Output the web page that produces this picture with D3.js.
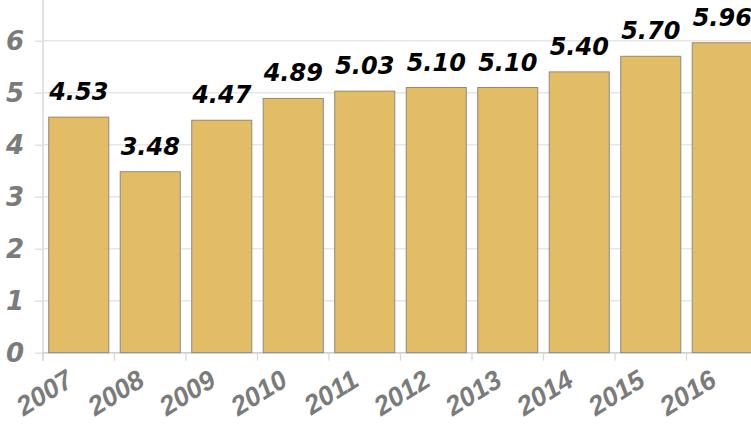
<!DOCTYPE html>
<html>
<head>
<meta charset="utf-8">
<script src="https://cdn.jsdelivr.net/npm/d3@7"></script>
<style>
  html, body { margin: 0; padding: 0; background: #fff; }
  svg { display: block; }
  .lbl { font-family: "DejaVu Sans", sans-serif; font-weight: bold; font-style: italic; }
  .yr { font-family: "Liberation Sans", Arial, sans-serif; font-weight: bold; font-style: italic; }
</style>
</head>
<body>
<svg id="chart" width="751" height="424"></svg>
<script>
// Yearly values
const years = ["2007", "2008", "2009", "2010", "2011", "2012", "2013", "2014", "2015", "2016"];
const values = [4.53, 3.48, 4.47, 4.89, 5.03, 5.10, 5.10, 5.40, 5.70, 5.96];
const valueLabels = ["4.53", "3.48", "4.47", "4.89", "5.03", "5.10", "5.10", "5.40", "5.70", "5.96"];
const yTicks = [0, 1, 2, 3, 4, 5, 6];

const svg = d3.select("#chart");
const plotLeft = 43, plotRight = 758, plotTop = 40.7, plotBottom = 352.7;

const x = d3.scaleBand().domain(years).range([plotLeft, plotRight]).paddingInner(0.16).paddingOuter(0.08);
const y = d3.scaleLinear().domain([0, 6]).range([plotBottom, plotTop]);

// short ticks to the left of the axis
const yAxis = svg.append("g")
  .attr("transform", `translate(${plotLeft},0)`)
  .call(d3.axisLeft(y).tickValues(yTicks).tickSize(8).tickFormat(""));
yAxis.select(".domain").remove();
yAxis.selectAll(".tick line").attr("stroke", "#e3e3e3").attr("stroke-width", 1.5);

// horizontal grid lines
svg.append("g").selectAll("line").data(yTicks).join("line")
  .attr("x1", plotLeft).attr("x2", 751)
  .attr("y1", d => y(d)).attr("y2", d => y(d))
  .attr("stroke", "#e6e6e6").attr("stroke-width", 1.5);

// vertical axis line
svg.append("line")
  .attr("x1", plotLeft).attr("x2", plotLeft).attr("y1", 0).attr("y2", plotBottom + 8)
  .attr("stroke", "#d8d8d8").attr("stroke-width", 1.5);

// y tick labels
svg.append("g").selectAll("text").data(yTicks).join("text")
  .attr("class", "lbl")
  .attr("x", 24).attr("y", d => y(d)).attr("dy", "0.36em")
  .attr("text-anchor", "end")
  .attr("font-size", 26).attr("fill", "#7b7b7b")
  .text(d => d);

// x baseline and category boundary ticks
const step = x.step();
const bounds = d3.range(years.length + 1).map(i => plotLeft + i * step);
svg.append("line")
  .attr("x1", plotLeft).attr("x2", 751).attr("y1", plotBottom).attr("y2", plotBottom)
  .attr("stroke", "#cfcfcf").attr("stroke-width", 1.5);
svg.append("g").selectAll("line").data(bounds).join("line")
  .attr("x1", d => d).attr("x2", d => d)
  .attr("y1", plotBottom).attr("y2", plotBottom + 8)
  .attr("stroke", "#d8d8d8").attr("stroke-width", 1.2);

// bars
svg.append("g").selectAll("rect").data(values).join("rect")
  .attr("x", (d, i) => x(years[i]))
  .attr("width", x.bandwidth())
  .attr("y", d => y(d))
  .attr("height", d => y(0) - y(d))
  .attr("fill", "#e3bc66")
  .attr("stroke", "#8c8a86")
  .attr("stroke-width", 1);

// value labels
svg.append("g").selectAll("text").data(values).join("text")
  .attr("class", "lbl")
  .attr("x", (d, i) => x(years[i]) + x.bandwidth() / 2)
  .attr("y", d => y(d) - 17)
  .attr("text-anchor", "middle")
  .attr("font-size", 24).attr("fill", "#000")
  .text((d, i) => valueLabels[i]);

// rotated year labels
svg.append("g").selectAll("text").data(years).join("text")
  .attr("class", "yr")
  .attr("text-anchor", "end")
  .attr("font-size", 27).attr("fill", "#7b7b7b")
  .attr("transform", d => `translate(${x(d) + x.bandwidth() / 2 - 4},${plotBottom + 32}) rotate(-32)`)
  .text(d => d);
</script>
</body>
</html>
